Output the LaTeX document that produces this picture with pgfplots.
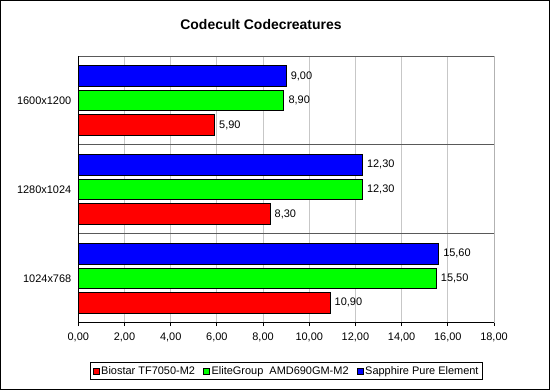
\documentclass[border=0pt]{standalone}
\usepackage{pgfplots}
\pgfplotsset{compat=1.18}
\usepackage{fontspec}
\setmainfont{Liberation Sans}
\begin{document}
\begin{tikzpicture}[x=1bp,y=1bp]
\useasboundingbox (0,0) rectangle (550,390);
\fill[white] (0,0) rectangle (550,390);
\draw[line width=1.2bp,black] (0.6,0.6) rectangle (549.4,389.4);
\node[font=\fontsize{14}{16}\selectfont\bfseries] at (261,365) {Codecult Codecreatures};
\begin{axis}[
  at={(78.3bp,67.3bp)}, anchor=south west,
  scale only axis, width=415.7bp, height=266.7bp,
  xmin=0, xmax=18, ymin=-0.5, ymax=2.5,
  xtick={0,2,...,18},
  ytick={0,1,2},
  yticklabels={1024x768,1280x1024,1600x1200},
  xtick pos=bottom, ytick pos=left,
  xtick align=outside, ytick align=outside,
  major tick length=3.5bp,
  major y tick style={draw=none},
  extra y ticks={-0.5,0.5,1.5,2.5},
  extra y tick labels={},
  extra y tick style={major tick length=4bp, ytick style={draw=black}, grid=major, major grid style={draw=black!65, line width=0.9bp}},
  xmajorgrids, major grid style={draw=black!22, line width=0.8bp},
  axis line style={draw=black!30, line width=0.8bp},
  tick style={black, line width=0.8bp},
  tick label style={font=\fontsize{11}{13}\selectfont},
  xticklabel style={yshift=-3bp},
  /pgf/number format/.cd, fixed, fixed zerofill, precision=2, use comma, assume math mode=true,
  /pgfplots/.cd,
  xbar, bar width=0.23,
  nodes near coords,
  nodes near coords style={font=\fontsize{11}{13}\selectfont, anchor=west, xshift=1bp},
  legend style={at={(rel axis cs:0.501,-0.181)}, anchor=center, legend columns=3, draw=black, line width=0.8bp, font=\fontsize{11}{13}\selectfont, inner xsep=2bp, inner ysep=2bp, /tikz/every even column/.append style={column sep=6bp}},
  legend image code/.code={\draw[#1,draw=black,line width=0.6bp] (0bp,-3bp) rectangle (6bp,3bp);},
  clip=false,
]
\addplot[fill=red, draw=black, line width=0.7bp, bar shift=-0.276] coordinates {(10.9,0) (8.3,1) (5.9,2)};
\addplot[fill=green, draw=black, line width=0.7bp, bar shift=0] coordinates {(15.5,0) (12.3,1) (8.9,2)};
\addplot[fill=blue, draw=black, line width=0.7bp, bar shift=0.276] coordinates {(15.6,0) (12.3,1) (9.0,2)};
\legend{Biostar TF7050-M2, EliteGroup\ \ AMD690GM-M2, Sapphire Pure Element}
\draw[black, line width=0.9bp] (rel axis cs:0,0) -- (rel axis cs:1,0);
\draw[black, line width=0.9bp] (rel axis cs:0,0) -- (rel axis cs:0,1);
\end{axis}
\end{tikzpicture}
\end{document}
